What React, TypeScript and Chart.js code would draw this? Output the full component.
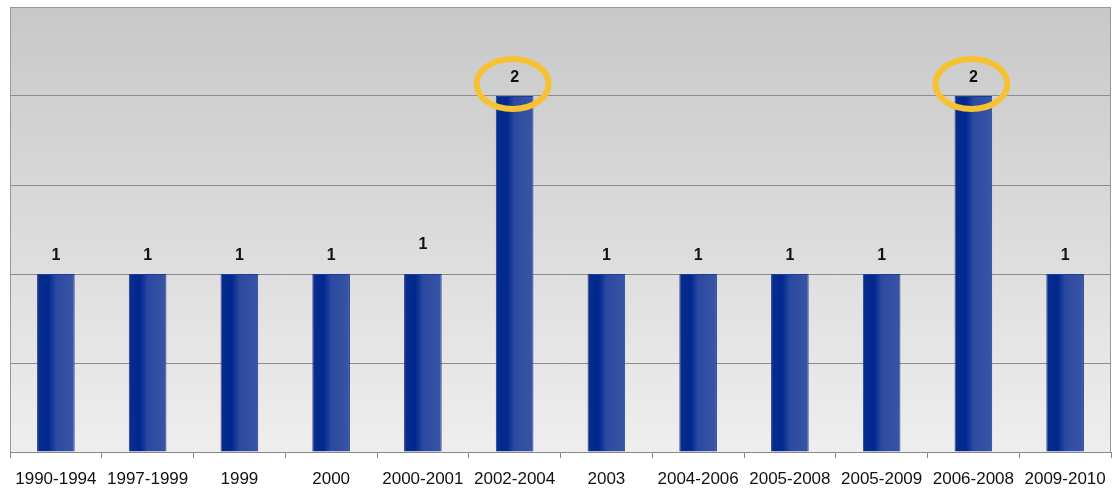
import React, { useEffect, useRef } from "react";
import { Chart, registerables } from "chart.js";

Chart.register(...registerables);

const categories = [
  "1990-1994", "1997-1999", "1999", "2000", "2000-2001", "2002-2004",
  "2003", "2004-2006", "2005-2008", "2005-2009", "2006-2008", "2009-2010",
];
const counts = [1, 1, 1, 1, 1, 2, 1, 1, 1, 1, 2, 1];
const circled = [false, false, false, false, false, true, false, false, false, false, true, false];
const labelLift = [0, 0, 0, 0, 11, 0, 0, 0, 0, 0, 0, 0];

const BAR_PCT = 0.41;

const frame = {
  id: "frame",
  beforeDraw(chart: any) {
    const { ctx, chartArea: a } = chart;
    const g = ctx.createLinearGradient(0, a.top, 0, a.bottom);
    g.addColorStop(0, "#c8c8c8");
    g.addColorStop(1, "#eeeeee");
    ctx.save();
    ctx.fillStyle = g;
    ctx.fillRect(a.left, a.top, a.right - a.left, a.bottom - a.top);
    ctx.restore();
  },
  afterDraw(chart: any) {
    const { ctx, chartArea: a } = chart;
    ctx.save();
    ctx.strokeStyle = "#999999";
    ctx.lineWidth = 1;
    ctx.beginPath();
    ctx.moveTo(a.left + 0.5, a.bottom);
    ctx.lineTo(a.left + 0.5, a.top + 0.5);
    ctx.lineTo(a.right - 0.5, a.top + 0.5);
    ctx.lineTo(a.right - 0.5, a.bottom);
    ctx.stroke();
    ctx.restore();
  },
  afterDatasetsDraw(chart: any) {
    const { ctx } = chart;
    const meta = chart.getDatasetMeta(0);
    ctx.save();
    ctx.font = "bold 16px 'Liberation Sans', Arial, sans-serif";
    ctx.fillStyle = "#111111";
    ctx.textAlign = "center";
    ctx.textBaseline = "middle";
    meta.data.forEach((bar: any, i: number) => {
      const ly = bar.y - 18 - labelLift[i];
      ctx.fillText(String(counts[i]), bar.x, ly);
      if (circled[i]) {
        ctx.strokeStyle = "#f7c232";
        ctx.lineWidth = 6;
        ctx.beginPath();
        ctx.ellipse(bar.x - 2, bar.y - 12, 36, 25, 0, 0, Math.PI * 2);
        ctx.stroke();
      }
    });
    ctx.restore();
  },
};

export default function App() {
  const ref = useRef<HTMLCanvasElement>(null);
  useEffect(() => {
    const chart = new Chart(ref.current!, {
      type: "bar",
      data: {
        labels: categories,
        datasets: [
          {
            data: counts,
            backgroundColor: (c: any) => {
              const ch = c.chart;
              const xs = ch.scales?.x;
              if (!xs || !ch.chartArea) return "#1f3f9a";
              const cx = xs.getPixelForValue(c.dataIndex);
              const w = (xs.width / categories.length) * BAR_PCT;
              const g = ch.ctx.createLinearGradient(cx - w / 2, 0, cx + w / 2, 0);
              g.addColorStop(0, "#0a2c8c");
              g.addColorStop(0.3, "#00288f");
              g.addColorStop(0.5, "#2b49a0");
              g.addColorStop(1, "#3a55a5");
              return g;
            },
            borderColor: "#1d3c98",
            borderWidth: 1,
            barPercentage: BAR_PCT,
            categoryPercentage: 1,
          },
        ],
      },
      options: {
        animation: false,
        responsive: false,
        layout: { padding: { left: 10, top: 7, right: 1, bottom: 0 } },
        plugins: { legend: { display: false }, tooltip: { enabled: false } },
        scales: {
          x: {
            offset: true,
            afterFit: (s: any) => {
              s.height = 39;
              s.paddingLeft = 0;
              s.paddingRight = 0;
            },
            grid: {
              offset: true,
              drawOnChartArea: false,
              drawTicks: true,
              tickLength: 6,
              color: "#888888",
            },
            border: { color: "#888888" },
            ticks: {
              color: "#111111",
              font: { family: "'Liberation Sans', Arial, sans-serif", size: 17 },
              padding: 11,
              maxRotation: 0,
              autoSkip: false,
            },
          },
          y: {
            min: 0,
            max: 2.5,
            afterFit: (s: any) => {
              s.width = 0;
            },
            ticks: { display: false, stepSize: 0.5 },
            grid: { color: "#8c8c8c", drawTicks: false },
            border: { display: false },
          },
        },
      },
      plugins: [frame],
    });
    return () => chart.destroy();
  }, []);
  return (
    <div style={{ position: "fixed", left: 0, top: 0, width: 1112, height: 491, background: "#ffffff" }}>
      <canvas ref={ref} width={1112} height={491} />
    </div>
  );
}
